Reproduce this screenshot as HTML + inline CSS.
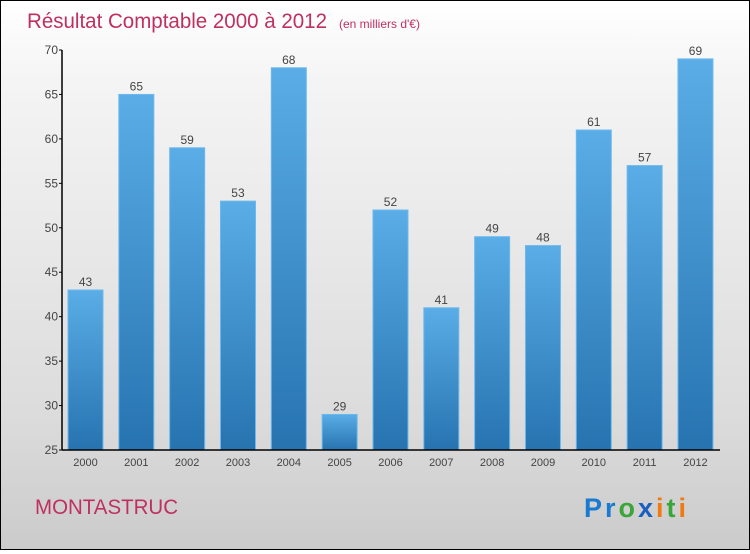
<!DOCTYPE html>
<html><head><meta charset="utf-8"><style>
html,body{margin:0;padding:0}
body{width:750px;height:550px;overflow:hidden}
#wrap{position:relative;width:748px;height:548px;border:1px solid #000;background:linear-gradient(#fff,#f4f4f4 15%,#dcdcdc 75%,#cbcbcb);font-family:"Liberation Sans",sans-serif}
</style></head><body>
<div id="wrap">
<svg id="chart" width="748" height="548">
<defs>
<linearGradient id="bg" x1="0" y1="0" x2="0" y2="1"><stop offset="0" stop-color="#5aade6"/><stop offset="1" stop-color="#2673b0"/></linearGradient>
</defs>
<text x="26" y="27" font-size="21" fill="#c0305f"><tspan textLength="300" lengthAdjust="spacingAndGlyphs">Résultat Comptable 2000 à 2012</tspan><tspan font-size="12" dx="12">(en milliers d'€)</tspan></text>
<text x="34" y="513" font-size="21" fill="#c0305f" textLength="143" lengthAdjust="spacingAndGlyphs">MONTASTRUC</text>
<g font-size="27" font-weight="bold" font-family="'Liberation Sans',sans-serif">
<text x="583" y="516" textLength="102" lengthAdjust="spacing"><tspan fill="#1a7ad0">Pr</tspan><tspan fill="#3aa63a">o</tspan><tspan fill="#1a5fc0">x</tspan><tspan fill="#f07a10">i</tspan><tspan fill="#3aa63a">t</tspan><tspan fill="#f07a10">i</tspan></text>
</g>
<g id="bars"></g>
<g id="axes"></g>
</svg>
</div>
<script>
const categories=["2000","2001","2002","2003","2004","2005","2006","2007","2008","2009","2010","2011","2012"];
const values=[43,65,59,53,68,29,52,41,49,48,61,57,69];
const yTicks=[25,30,35,40,45,50,55,60,65,70];
const NS="http://www.w3.org/2000/svg";
const yMin=25,yMax=70,yTop=49,yBot=449,xL=61,xR=719;
function y(v){return yBot-(v-yMin)/(yMax-yMin)*(yBot-yTop);}
function xb(i){return 67+i*50.83;}
function mk(t,a,p){const e=document.createElementNS(NS,t);for(const k in a)e.setAttribute(k,a[k]);p.appendChild(e);return e;}
const bars=document.getElementById('bars'),axes=document.getElementById('axes');
values.forEach((v,i)=>{
 const r=mk('rect',{x:xb(i),y:y(v),width:35,height:yBot-y(v),fill:'url(#bg)',stroke:'#6db9ee','stroke-width':1},bars);
 
 
 const t=mk('text',{x:xb(i)+17.5,y:y(v)-4,'text-anchor':'middle','font-size':12,fill:'#444'},bars);
 t.textContent=v;
 
 
 const c=mk('text',{x:xb(i)+17.5,y:yBot+16,'text-anchor':'middle','font-size':11,fill:'#444'},axes);
 c.textContent=categories[i];
 
 
});
const ya=mk('line',{x1:xL,y1:yTop,x2:xL,y2:yBot,stroke:'#000','stroke-width':1.5},axes);


const xa=mk('line',{x1:xL,y1:yBot,x2:xR,y2:yBot,stroke:'#000','stroke-width':1.5},axes);


yTicks.forEach(v=>{
 mk('line',{x1:xL-3,y1:y(v),x2:xL,y2:y(v),stroke:'#000'},axes);
 const t=mk('text',{x:xL-4,y:y(v)+4,'text-anchor':'end','font-size':12,fill:'#444'},axes);
 t.textContent=v;
 
 
});
</script>
</body></html>
